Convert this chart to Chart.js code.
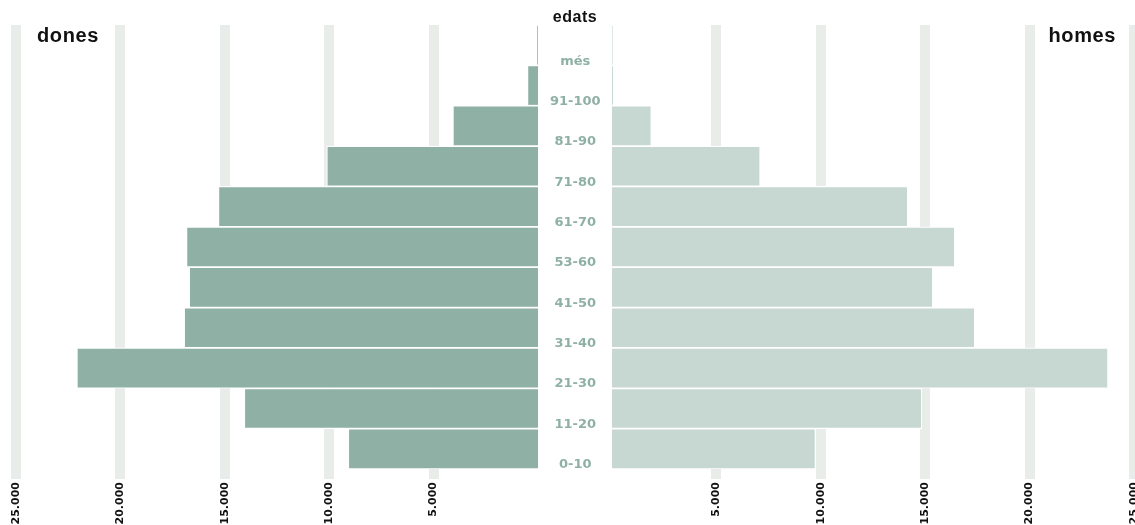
<!DOCTYPE html>
<html>
<head>
<meta charset="utf-8">
<script src="https://cdn.jsdelivr.net/npm/chart.js@4"></script>
<style>
    html, body { margin: 0; padding: 0; background: #ffffff; overflow: hidden; }
    .wrap { position: relative; width: 1135px; height: 525px; }
    #donesChart { position: absolute; left: 0; top: 0; }
    #homesChart { position: absolute; left: 612px; top: 0; }
    .label { position: absolute; font-family: "Liberation Sans", Arial, sans-serif; font-weight: bold; color: #111111; line-height: 1; white-space: nowrap; }
    .edats { font-size: 16px; letter-spacing: 0.5px; left: 538px; width: 74px; text-align: center; top: 9px; }
    .side { font-size: 20px; letter-spacing: 0.6px; top: 25px; }
</style>
</head>
<body>
<div class="wrap">
    <canvas id="donesChart" width="612" height="525"></canvas>
    <canvas id="homesChart" width="523" height="525"></canvas>
    <div class="label edats">edats</div>
    <div class="label side" style="left:37px">dones</div>
    <div class="label side" style="right:19px">homes</div>
</div>
<script>
const categories = ['més', '91-100', '81-90', '71-80', '61-70', '53-60', '41-50', '31-40', '21-30', '11-20', '0-10'];
const dones = [40, 510, 4080, 10120, 15310, 16840, 16710, 16950, 22090, 14070, 9090];
const homes = [30, 60, 1890, 7100, 14170, 16420, 15370, 17380, 23760, 14840, 9750];
const axisMax = 25000;
const axisStep = 5000;

const donesColor = '#8fb1a5';
const homesColor = '#c7d8d2';
const gridColor = '#e9ede9';

document.addEventListener('DOMContentLoaded', () => {
    createSideChart(document.getElementById('donesChart'), dones, donesColor, true);
    createSideChart(document.getElementById('homesChart'), homes, homesColor, false);
});

function formatNumber(value) {
    if (value === 0) return '';
    return String(value).replace(/\B(?=(\d{3})+(?!\d))/g, '.');
}

// no grid line at zero, so the bars start right at the middle column
function isZeroTick(c) {
    return c.tick && c.tick.value === 0;
}

function createSideChart(canvasElement, values, color, isLeft) {
    const ctx = canvasElement.getContext('2d');
    new Chart(ctx, {
        type: 'bar',
        data: {
            labels: categories,
            datasets: [{
                data: values,
                backgroundColor: color,
                borderColor: '#ffffff',
                borderWidth: 1.2,
                barPercentage: 1,
                categoryPercentage: 1
            }]
        },
        options: {
            indexAxis: 'y',
            responsive: false,
            animation: false,
            layout: {
                padding: isLeft ? { left: 16, right: 0, top: 25, bottom: 0 } : { left: 0, right: 1, top: 25, bottom: 0 }
            },
            plugins: {
                legend: { display: false },
                tooltip: { enabled: false }
            },
            scales: {
                x: {
                    min: 0,
                    max: axisMax,
                    reverse: isLeft,
                    border: { display: false },
                    grid: {
                        color: (c) => (isZeroTick(c) ? 'rgba(0,0,0,0)' : gridColor),
                        lineWidth: (c) => (isZeroTick(c) ? 0 : 10),
                        tickLength: 10
                    },
                    ticks: {
                        stepSize: axisStep,
                        minRotation: 90,
                        maxRotation: 90,
                        padding: 3,
                        color: '#111111',
                        font: { family: 'DejaVu Sans', size: 11, weight: 'bold' },
                        callback: (value) => formatNumber(value)
                    },
                    afterFit: (scale) => {
                        scale.height = 56;
                        scale.paddingLeft = 0;
                        scale.paddingRight = 0;
                    }
                },
                y: {
                    display: isLeft,
                    position: 'right',
                    offset: true,
                    border: { display: false },
                    grid: { display: false },
                    ticks: {
                        autoSkip: false,
                        crossAlign: 'center',
                        labelOffset: 16,
                        padding: 4,
                        color: donesColor,
                        font: { family: 'DejaVu Sans', size: 13, weight: 'bold' }
                    },
                    afterFit: (scale) => {
                        if (isLeft) scale.width = 74;
                        scale.paddingTop = 0;
                        scale.paddingBottom = 0;
                    }
                }
            }
        }
    });
}
</script>
</body>
</html>
